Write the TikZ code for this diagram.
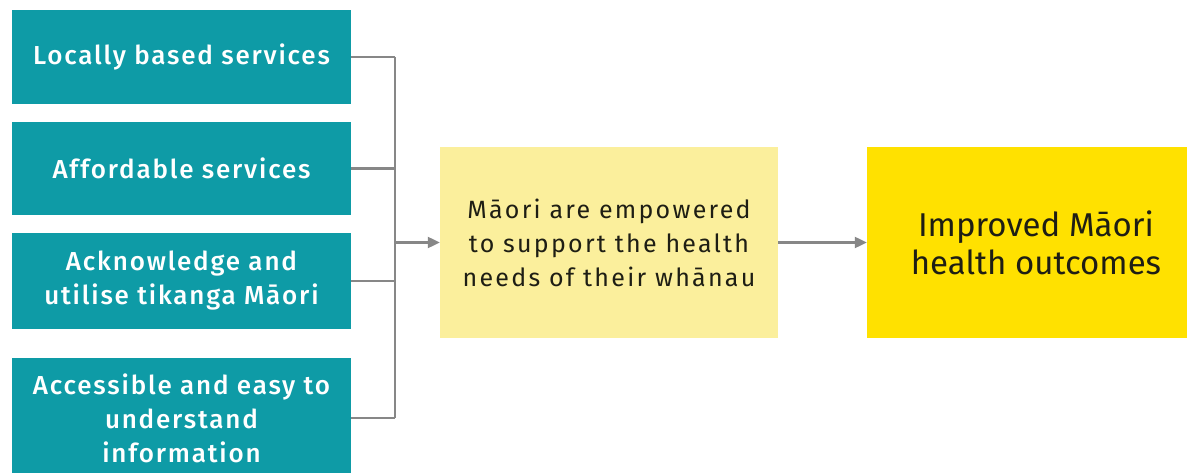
\documentclass[tikz,border=0pt]{standalone}
\usepackage{fontspec}
\setmainfont{Fira Sans}
\newfontfamily\medfont{Fira Sans Medium}
\usetikzlibrary{arrows.meta}
\definecolor{tealbox}{HTML}{0E9BA6}
\definecolor{paleyellow}{HTML}{FBEF9C}
\definecolor{brightyellow}{HTML}{FFE100}
\definecolor{linegrey}{HTML}{878787}
\definecolor{darktext}{HTML}{1E1E14}
\tikzset{
  tealnode/.style={fill=tealbox, text=white, align=center, inner sep=0pt,
    minimum width=339pt, font=\medfont\fontsize{26}{34}\selectfont\addfontfeatures{LetterSpace=7}},
  midnode/.style={fill=paleyellow, text=darktext, align=center, inner sep=0pt,
    minimum width=338pt, minimum height=191pt, font=\fontsize{25}{34}\selectfont\addfontfeatures{LetterSpace=9}},
  outnode/.style={fill=brightyellow, text=darktext, align=center, inner sep=0pt,
    minimum width=338pt, minimum height=191pt, font=\fontsize{33}{38}\selectfont},
  conn/.style={draw=linegrey, line width=2.2pt},
  arr/.style={conn, -{Triangle[length=12pt,width=11pt]}}
}
\begin{document}
\begin{tikzpicture}[x=1pt,y=-1pt]
\fill[white] (0,0) rectangle (1187,473);
\useasboundingbox (0,0) rectangle (1187,473);
\node[tealnode, minimum height=94pt] (b1) at (181.5,57) {Locally based services};
\node[tealnode, minimum height=93pt] (b2) at (181.5,168.5) {Affordable services};
\node[tealnode, minimum height=96pt] (b3) at (181.5,281) {Acknowledge and\\utilise tikanga Māori};
\node[tealnode, minimum height=120pt] (b4) at (181.5,418) {Accessible and easy to\\understand\\information};
\node[midnode] (mid) at (609,242.5) {Māori are empowered\\to support the health\\needs of their whānau};
\node[outnode] (out) at (1036,242.5) {Improved Māori\\health outcomes};
\coordinate (j1) at (395,57);
\coordinate (j2) at (395,168.5);
\coordinate (j3) at (395,281);
\coordinate (j4) at (395,418);
\coordinate (jm) at (395,242.5);
\draw[conn] (b1.east) -- (j1);
\draw[conn] (b2.east) -- (j2);
\draw[conn] (b3.east) -- (j3);
\draw[conn] (b4.east) -- (j4);
\draw[conn] (j1) -- (j4);
\draw[arr] (jm) -- (mid.west);
\draw[arr] (mid.east) -- (out.west);
\end{tikzpicture}
\end{document}
